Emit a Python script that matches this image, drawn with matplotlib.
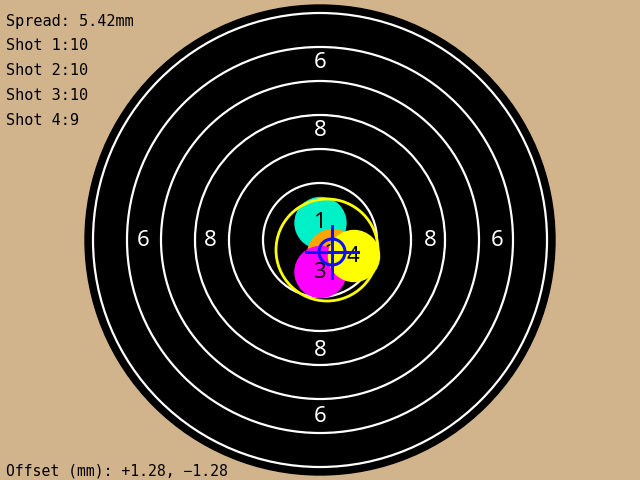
import matplotlib
matplotlib.use('Agg')
import matplotlib.pyplot as plt
from matplotlib.patches import Circle

# target geometry (pixel-like units, origin at target centre, y down)
target_radius = 235
ring_radii = [57, 91, 125, 159, 193, 227]
ring_labels = ['6', '8']
ring_label_r = [177, 110]

# shots: x, y offsets from centre, colours, labels
shot_x = [0.5, 13, 0.5, 34]
shot_y = [-17, 15, 32, 16]
shot_colors = ['#00F0C8', '#FFA500', '#FF00FF', '#FFFF00']
shot_labels = ['1', '2', '3', '4']
shot_r = 25.5

# group circle and mean point
group_x, group_y, group_r = 7, 10, 51
mean_x, mean_y = 12, 12

info_lines = ['Spread: 5.42mm', 'Shot 1:10', 'Shot 2:10', 'Shot 3:10', 'Shot 4:9']
offset_text = 'Offset (mm): +1.28, \u22121.28'

fig = plt.figure(figsize=(6.4, 4.8), dpi=100, facecolor='#D2B48C')
ax = fig.add_axes([0, 0, 1, 1])
ax.set_xlim(-320, 320)
ax.set_ylim(240, -240)
ax.set_aspect('equal')
ax.axis('off')

ax.add_patch(Circle((0, 0), target_radius, color='black', zorder=1))
for r in ring_radii:
    ax.add_patch(Circle((0, 0), r, fill=False, ec='white', lw=1.6, zorder=2))

for lab, r in zip(ring_labels, ring_label_r):
    for dx, dy in [(0, -r), (0, r), (-r, 0), (r, 0)]:
        ax.text(dx, dy, lab, color='white', fontsize=16, family='Noto Sans',
                ha='center', va='center', zorder=3)

for x, y, c, lab in zip(shot_x, shot_y, shot_colors, shot_labels):
    ax.add_patch(Circle((x, y), shot_r, color=c, zorder=4))
    ax.text(x - 1.5, y, lab, color='black', fontsize=16, family='Noto Sans',
            fontweight='light', ha='center', va='center', zorder=4)

ax.add_patch(Circle((group_x, group_y), group_r, fill=False, ec='#FFFF00', lw=2, zorder=5))

# crosshair at group centre
ax.plot([mean_x - 26, mean_x + 26], [mean_y, mean_y], color='#1010FF', lw=2.2, zorder=6)
ax.plot([mean_x, mean_x], [mean_y - 26, mean_y + 26], color='#1010FF', lw=2.2, zorder=6)
ax.add_patch(Circle((mean_x, mean_y), 13, fill=False, ec='#1010FF', lw=2.2, zorder=6))

baselines = [26, 50, 75, 100, 125]
for line, yb in zip(info_lines, baselines):
    fig.text(6 / 640, 1 - yb / 480, line, family='DejaVu Sans Mono', fontsize=11,
             color='black', va='baseline', ha='left')
fig.text(6 / 640, 1 - 475 / 480, offset_text, family='DejaVu Sans Mono', fontsize=10.6,
         color='black', va='baseline', ha='left')

fig.savefig('out.png', dpi=100, facecolor=fig.get_facecolor())
